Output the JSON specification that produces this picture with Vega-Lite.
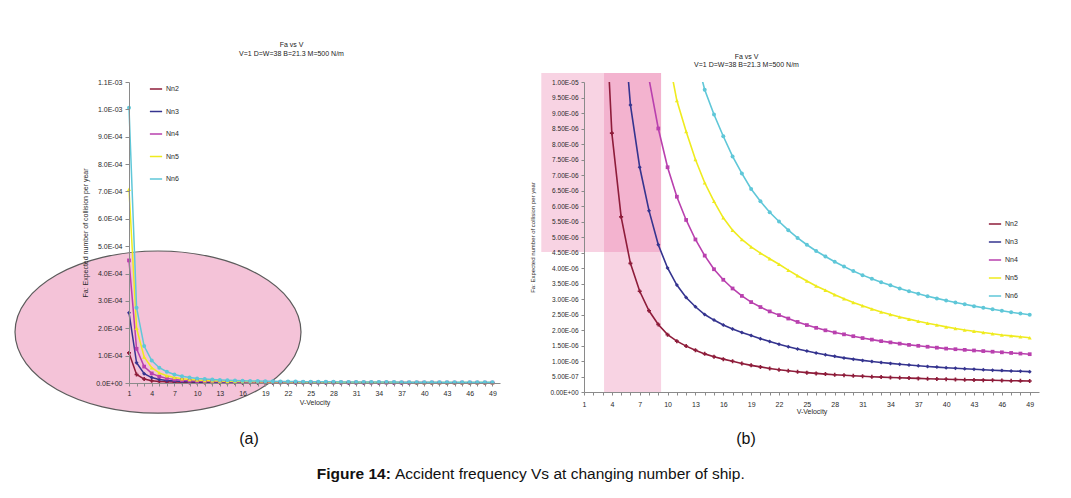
{
  "$schema": "https://vega.github.io/schema/vega-lite/v6.json",
  "padding": {"left": 12, "top": 41, "right": 4, "bottom": 4},
  "background": "white",
  "config": {
    "font": "Liberation Sans",
    "view": {"stroke": null},
    "axis": {"grid": false, "domainColor": "#8a8a8a", "tickColor": "#8a8a8a", "labelColor": "#2a2a2a", "titleColor": "#2a2a2a", "titleFontWeight": "normal", "labelFont": "Liberation Sans", "titleFont": "Liberation Sans"},
    "legend": {"labelFont": "Liberation Sans", "labelColor": "#2a2a2a"}
  },
  "datasets": {
    "curves": [
      {"V": 1, "Nn2": 1.1e-4, "Nn3": 2.57e-4, "Nn4": 4.48e-4, "Nn5": 7.08e-4, "Nn6": 1.006e-3},
      {"V": 2, "Nn2": 3.1e-5, "Nn3": 7.4e-5, "Nn4": 1.25e-4, "Nn5": 2.0e-4, "Nn6": 2.75e-4},
      {"V": 3, "Nn2": 1.44e-5, "Nn3": 3.4e-5, "Nn4": 6.0e-5, "Nn5": 9.5e-5, "Nn6": 1.35e-4},
      {"V": 4, "Nn2": 8.35e-6, "Nn3": 1.98e-5, "Nn4": 3.5e-5, "Nn5": 5.6e-5, "Nn6": 8.2e-5},
      {"V": 5, "Nn2": 5.65e-6, "Nn3": 1.29e-5, "Nn4": 2.35e-5, "Nn5": 3.7e-5, "Nn6": 5.6e-5},
      {"V": 6, "Nn2": 4.15e-6, "Nn3": 9.26e-6, "Nn4": 1.69e-5, "Nn5": 2.65e-5, "Nn6": 4.1e-5},
      {"V": 7, "Nn2": 3.25e-6, "Nn3": 7.25e-6, "Nn4": 1.28e-5, "Nn5": 2.0e-5, "Nn6": 3.1e-5},
      {"V": 8, "Nn2": 2.62e-6, "Nn3": 5.85e-6, "Nn4": 1.01e-5, "Nn5": 1.59e-5, "Nn6": 2.44e-5},
      {"V": 9, "Nn2": 2.18e-6, "Nn3": 4.75e-6, "Nn4": 8.5e-6, "Nn5": 1.3e-5, "Nn6": 1.99e-5},
      {"V": 10, "Nn2": 1.85e-6, "Nn3": 4.0e-6, "Nn4": 7.25e-6, "Nn5": 1.095e-5, "Nn6": 1.66e-5},
      {"V": 11, "Nn2": 1.64e-6, "Nn3": 3.45e-6, "Nn4": 6.3e-6, "Nn5": 9.4e-6, "Nn6": 1.42e-5},
      {"V": 12, "Nn2": 1.48e-6, "Nn3": 3.05e-6, "Nn4": 5.55e-6, "Nn5": 8.4e-6, "Nn6": 1.235e-5},
      {"V": 13, "Nn2": 1.35e-6, "Nn3": 2.75e-6, "Nn4": 4.92e-6, "Nn5": 7.5e-6, "Nn6": 1.09e-5},
      {"V": 14, "Nn2": 1.23e-6, "Nn3": 2.5e-6, "Nn4": 4.4e-6, "Nn5": 6.75e-6, "Nn6": 9.75e-6},
      {"V": 15, "Nn2": 1.14e-6, "Nn3": 2.32e-6, "Nn4": 3.96e-6, "Nn5": 6.15e-6, "Nn6": 8.95e-6},
      {"V": 16, "Nn2": 1.06e-6, "Nn3": 2.16e-6, "Nn4": 3.62e-6, "Nn5": 5.62e-6, "Nn6": 8.25e-6},
      {"V": 17, "Nn2": 9.9e-7, "Nn3": 2.03e-6, "Nn4": 3.34e-6, "Nn5": 5.22e-6, "Nn6": 7.6e-6},
      {"V": 18, "Nn2": 9.2e-7, "Nn3": 1.92e-6, "Nn4": 3.1e-6, "Nn5": 4.92e-6, "Nn6": 7.05e-6},
      {"V": 19, "Nn2": 8.6e-7, "Nn3": 1.82e-6, "Nn4": 2.9e-6, "Nn5": 4.68e-6, "Nn6": 6.55e-6},
      {"V": 20, "Nn2": 8.1e-7, "Nn3": 1.72e-6, "Nn4": 2.74e-6, "Nn5": 4.48e-6, "Nn6": 6.15e-6},
      {"V": 21, "Nn2": 7.6e-7, "Nn3": 1.63e-6, "Nn4": 2.6e-6, "Nn5": 4.3e-6, "Nn6": 5.8e-6},
      {"V": 22, "Nn2": 7.2e-7, "Nn3": 1.54e-6, "Nn4": 2.48e-6, "Nn5": 4.12e-6, "Nn6": 5.5e-6},
      {"V": 23, "Nn2": 6.85e-7, "Nn3": 1.46e-6, "Nn4": 2.37e-6, "Nn5": 3.93e-6, "Nn6": 5.22e-6},
      {"V": 24, "Nn2": 6.55e-7, "Nn3": 1.39e-6, "Nn4": 2.26e-6, "Nn5": 3.75e-6, "Nn6": 4.97e-6},
      {"V": 25, "Nn2": 6.25e-7, "Nn3": 1.32e-6, "Nn4": 2.16e-6, "Nn5": 3.58e-6, "Nn6": 4.75e-6},
      {"V": 26, "Nn2": 6.0e-7, "Nn3": 1.26e-6, "Nn4": 2.07e-6, "Nn5": 3.42e-6, "Nn6": 4.55e-6},
      {"V": 27, "Nn2": 5.78e-7, "Nn3": 1.2e-6, "Nn4": 1.99e-6, "Nn5": 3.28e-6, "Nn6": 4.37e-6},
      {"V": 28, "Nn2": 5.58e-7, "Nn3": 1.15e-6, "Nn4": 1.92e-6, "Nn5": 3.14e-6, "Nn6": 4.2e-6},
      {"V": 29, "Nn2": 5.4e-7, "Nn3": 1.1e-6, "Nn4": 1.86e-6, "Nn5": 3.01e-6, "Nn6": 4.05e-6},
      {"V": 30, "Nn2": 5.23e-7, "Nn3": 1.06e-6, "Nn4": 1.8e-6, "Nn5": 2.89e-6, "Nn6": 3.9e-6},
      {"V": 31, "Nn2": 5.08e-7, "Nn3": 1.02e-6, "Nn4": 1.74e-6, "Nn5": 2.78e-6, "Nn6": 3.77e-6},
      {"V": 32, "Nn2": 4.94e-7, "Nn3": 9.85e-7, "Nn4": 1.69e-6, "Nn5": 2.68e-6, "Nn6": 3.65e-6},
      {"V": 33, "Nn2": 4.81e-7, "Nn3": 9.52e-7, "Nn4": 1.64e-6, "Nn5": 2.58e-6, "Nn6": 3.54e-6},
      {"V": 34, "Nn2": 4.69e-7, "Nn3": 9.22e-7, "Nn4": 1.6e-6, "Nn5": 2.5e-6, "Nn6": 3.44e-6},
      {"V": 35, "Nn2": 4.58e-7, "Nn3": 8.95e-7, "Nn4": 1.56e-6, "Nn5": 2.42e-6, "Nn6": 3.34e-6},
      {"V": 36, "Nn2": 4.48e-7, "Nn3": 8.7e-7, "Nn4": 1.52e-6, "Nn5": 2.35e-6, "Nn6": 3.25e-6},
      {"V": 37, "Nn2": 4.38e-7, "Nn3": 8.46e-7, "Nn4": 1.49e-6, "Nn5": 2.28e-6, "Nn6": 3.17e-6},
      {"V": 38, "Nn2": 4.29e-7, "Nn3": 8.24e-7, "Nn4": 1.46e-6, "Nn5": 2.22e-6, "Nn6": 3.09e-6},
      {"V": 39, "Nn2": 4.2e-7, "Nn3": 8.03e-7, "Nn4": 1.43e-6, "Nn5": 2.16e-6, "Nn6": 3.02e-6},
      {"V": 40, "Nn2": 4.12e-7, "Nn3": 7.84e-7, "Nn4": 1.4e-6, "Nn5": 2.1e-6, "Nn6": 2.95e-6},
      {"V": 41, "Nn2": 4.04e-7, "Nn3": 7.66e-7, "Nn4": 1.38e-6, "Nn5": 2.05e-6, "Nn6": 2.89e-6},
      {"V": 42, "Nn2": 3.97e-7, "Nn3": 7.49e-7, "Nn4": 1.36e-6, "Nn5": 2.0e-6, "Nn6": 2.83e-6},
      {"V": 43, "Nn2": 3.9e-7, "Nn3": 7.33e-7, "Nn4": 1.34e-6, "Nn5": 1.96e-6, "Nn6": 2.77e-6},
      {"V": 44, "Nn2": 3.83e-7, "Nn3": 7.18e-7, "Nn4": 1.32e-6, "Nn5": 1.92e-6, "Nn6": 2.72e-6},
      {"V": 45, "Nn2": 3.77e-7, "Nn3": 7.04e-7, "Nn4": 1.3e-6, "Nn5": 1.88e-6, "Nn6": 2.67e-6},
      {"V": 46, "Nn2": 3.71e-7, "Nn3": 6.91e-7, "Nn4": 1.28e-6, "Nn5": 1.84e-6, "Nn6": 2.62e-6},
      {"V": 47, "Nn2": 3.65e-7, "Nn3": 6.79e-7, "Nn4": 1.26e-6, "Nn5": 1.81e-6, "Nn6": 2.57e-6},
      {"V": 48, "Nn2": 3.6e-7, "Nn3": 6.67e-7, "Nn4": 1.24e-6, "Nn5": 1.78e-6, "Nn6": 2.53e-6},
      {"V": 49, "Nn2": 3.55e-7, "Nn3": 6.56e-7, "Nn4": 1.22e-6, "Nn5": 1.75e-6, "Nn6": 2.49e-6}
    ]
  },
  "spacing": 10,
  "vconcat": [
    {
      "bounds": "flush",
      "spacing": 84,
      "resolve": {"scale": {"color": "independent"}, "legend": {"color": "independent"}},
      "hconcat": [
        {
          "width": 371,
          "height": 301,
          "title": {"text": ["Fa vs V", "V=1 D=W=38 B=21.3 M=500 N/m"], "fontSize": 7, "fontWeight": "normal", "lineHeight": 9, "offset": 21, "dx": -23, "color": "#222", "font": "Liberation Sans"},
          "layer": [
            {
              "data": {"values": [{}]},
              "mark": {"type": "point", "shape": "M-1,0A1,0.567,0,1,1,1,0A1,0.567,0,1,1,-1,0Z", "size": 81796, "filled": true, "fill": "#f4c3d8", "stroke": "#5c5c5c", "strokeWidth": 1.2, "opacity": 1, "clip": false},
              "encoding": {
                "x": {"datum": 4.83, "type": "quantitative", "scale": {"domain": [1, 50], "nice": false, "zero": false},
                  "axis": {"zindex": 1, "values": [1,2,3,4,5,6,7,8,9,10,11,12,13,14,15,16,17,18,19,20,21,22,23,24,25,26,27,28,29,30,31,32,33,34,35,36,37,38,39,40,41,42,43,44,45,46,47,48,49],
                    "labelExpr": "(datum.value - 1) % 3 == 0 ? datum.label : ''", "labelOverlap": false, "labelFlush": false,
                    "title": "V-Velocity", "titleFontSize": 7, "labelFontSize": 7, "tickSize": 3, "labelPadding": 3, "titlePadding": 2}},
                "y": {"datum": 0.000186, "type": "quantitative", "scale": {"domain": [0, 0.0011], "nice": false},
                  "axis": {"zindex": 1, "values": [0, 0.0001, 0.0002, 0.0003, 0.0004, 0.0005, 0.0006, 0.0007, 0.0008, 0.0009, 0.001, 0.0011],
                    "labelExpr": "replace(replace(format(datum.value, '.1e'), 'e-', 'E-0'), 'e+', 'E+0')", "labelOverlap": false, "labelFlush": false,
                    "title": "Fa: Expected number of collision per year", "titleFontSize": 7, "labelFontSize": 7, "tickSize": 4, "labelPadding": 3, "titlePadding": 7}}
              }
            },
            {
              "data": {"name": "curves"},
              "encoding": {
                "x": {"field": "V", "type": "quantitative", "scale": {"domain": [1, 50], "nice": false, "zero": false},
                  "axis": {"zindex": 1, "values": [1,2,3,4,5,6,7,8,9,10,11,12,13,14,15,16,17,18,19,20,21,22,23,24,25,26,27,28,29,30,31,32,33,34,35,36,37,38,39,40,41,42,43,44,45,46,47,48,49],
                    "labelExpr": "(datum.value - 1) % 3 == 0 ? datum.label : ''", "labelOverlap": false, "labelFlush": false,
                    "title": "V-Velocity", "titleFontSize": 7, "labelFontSize": 7, "tickSize": 3, "labelPadding": 3, "titlePadding": 2}},
                "y": {"field": "Fa", "type": "quantitative", "scale": {"domain": [0, 0.0011], "nice": false},
                  "axis": {"zindex": 1, "values": [0, 0.0001, 0.0002, 0.0003, 0.0004, 0.0005, 0.0006, 0.0007, 0.0008, 0.0009, 0.001, 0.0011],
                    "labelExpr": "replace(replace(format(datum.value, '.1e'), 'e-', 'E-0'), 'e+', 'E+0')", "labelOverlap": false, "labelFlush": false,
                    "title": "Fa: Expected number of collision per year", "titleFontSize": 7, "labelFontSize": 7, "tickSize": 4, "labelPadding": 3, "titlePadding": 7}}
              },
              "layer": [
                {
                  "transform": [{"fold": ["Nn2", "Nn3", "Nn4", "Nn5", "Nn6"], "as": ["series", "Fa"]}],
                  "mark": {"type": "line", "strokeWidth": 1.5},
                  "encoding": {
                    "color": {"field": "series", "type": "nominal",
                      "scale": {"domain": ["Nn2", "Nn3", "Nn4", "Nn5", "Nn6"], "range": ["#8e1c3a", "#35348f", "#b940ae", "#efeb1e", "#5fc7d8"]},
                      "legend": {"orient": "none", "legendX": 20, "legendY": 0, "title": null, "symbolType": "stroke", "symbolSize": 150, "symbolStrokeWidth": 1.5, "labelFontSize": 7, "rowPadding": 12.5, "labelOffset": 3}}
                  }
                },
                {"transform": [{"fold": ["Nn2"], "as": ["series", "Fa"]}], "mark": {"type": "point", "shape": "cross", "filled": true, "size": 16, "color": "#8e1c3a", "opacity": 1}},
                {"transform": [{"fold": ["Nn3"], "as": ["series", "Fa"]}], "mark": {"type": "point", "shape": "diamond", "filled": true, "size": 16, "color": "#35348f", "opacity": 1}},
                {"transform": [{"fold": ["Nn4"], "as": ["series", "Fa"]}], "mark": {"type": "point", "shape": "square", "filled": true, "size": 14, "color": "#b940ae", "opacity": 1}},
                {"transform": [{"fold": ["Nn5"], "as": ["series", "Fa"]}], "mark": {"type": "point", "shape": "triangle-up", "filled": true, "size": 16, "color": "#efeb1e", "opacity": 1}},
                {"transform": [{"fold": ["Nn6"], "as": ["series", "Fa"]}], "mark": {"type": "point", "shape": "circle", "filled": true, "size": 16, "color": "#5fc7d8", "opacity": 1}}
              ]
            }
          ]
        },
        {
          "width": 455,
          "height": 310,
          "title": {"text": ["Fa vs V", "V=1 D=W=38 B=21.3 M=500 N/m"], "fontSize": 7, "fontWeight": "normal", "lineHeight": 8, "offset": 5, "dx": -65, "color": "#222", "font": "Liberation Sans"},
          "layer": [
            {
              "data": {"values": [{}]},
              "mark": {"type": "rect", "color": "#e5609a", "opacity": 0.28, "clip": false},
              "encoding": {
                "x": {"datum": 3.16, "type": "quantitative", "scale": {"domain": [1, 50], "nice": false, "zero": false},
                  "axis": {"zindex": 1, "values": [1,2,3,4,5,6,7,8,9,10,11,12,13,14,15,16,17,18,19,20,21,22,23,24,25,26,27,28,29,30,31,32,33,34,35,36,37,38,39,40,41,42,43,44,45,46,47,48,49],
                    "labelExpr": "(datum.value - 1) % 3 == 0 ? datum.label : ''", "labelOverlap": false, "labelFlush": false,
                    "title": "V-Velocity", "titleFontSize": 7, "labelFontSize": 7, "tickSize": 3, "labelPadding": 5, "titlePadding": 0}},
                "x2": {"datum": 9.3},
                "y": {"datum": 0, "type": "quantitative", "scale": {"domain": [0, 1e-5], "nice": false},
                  "axis": {"zindex": 1, "values": [0, 5e-7, 1e-6, 1.5e-6, 2e-6, 2.5e-6, 3e-6, 3.5e-6, 4e-6, 4.5e-6, 5e-6, 5.5e-6, 6e-6, 6.5e-6, 7e-6, 7.5e-6, 8e-6, 8.5e-6, 9e-6, 9.5e-6, 1e-5],
                    "labelExpr": "replace(replace(format(datum.value, '.2e'), 'e-', 'E-0'), 'e+', 'E+0')", "labelOverlap": false, "labelFlush": false,
                    "title": "Fa: Expected number of collision per year", "titleFontSize": 6, "labelFontSize": 6.5, "tickSize": 3, "labelPadding": 3, "titlePadding": 14}},
                "y2": {"datum": 1.029e-5}
              }
            },
            {
              "data": {"values": [{}]},
              "mark": {"type": "rect", "color": "#e5609a", "opacity": 0.28, "clip": false},
              "encoding": {
                "x": {"datum": -3.6, "type": "quantitative", "scale": {"domain": [1, 50], "nice": false, "zero": false},
                  "axis": {"zindex": 1, "values": [1,2,3,4,5,6,7,8,9,10,11,12,13,14,15,16,17,18,19,20,21,22,23,24,25,26,27,28,29,30,31,32,33,34,35,36,37,38,39,40,41,42,43,44,45,46,47,48,49],
                    "labelExpr": "(datum.value - 1) % 3 == 0 ? datum.label : ''", "labelOverlap": false, "labelFlush": false,
                    "title": "V-Velocity", "titleFontSize": 7, "labelFontSize": 7, "tickSize": 3, "labelPadding": 5, "titlePadding": 0}},
                "x2": {"datum": 9.3},
                "y": {"datum": 4.52e-6, "type": "quantitative", "scale": {"domain": [0, 1e-5], "nice": false},
                  "axis": {"zindex": 1, "values": [0, 5e-7, 1e-6, 1.5e-6, 2e-6, 2.5e-6, 3e-6, 3.5e-6, 4e-6, 4.5e-6, 5e-6, 5.5e-6, 6e-6, 6.5e-6, 7e-6, 7.5e-6, 8e-6, 8.5e-6, 9e-6, 9.5e-6, 1e-5],
                    "labelExpr": "replace(replace(format(datum.value, '.2e'), 'e-', 'E-0'), 'e+', 'E+0')", "labelOverlap": false, "labelFlush": false,
                    "title": "Fa: Expected number of collision per year", "titleFontSize": 6, "labelFontSize": 6.5, "tickSize": 3, "labelPadding": 3, "titlePadding": 14}},
                "y2": {"datum": 1.029e-5}
              }
            },
            {
              "data": {"name": "curves"},
              "encoding": {
                "x": {"field": "V", "type": "quantitative", "scale": {"domain": [1, 50], "nice": false, "zero": false},
                  "axis": {"zindex": 1, "values": [1,2,3,4,5,6,7,8,9,10,11,12,13,14,15,16,17,18,19,20,21,22,23,24,25,26,27,28,29,30,31,32,33,34,35,36,37,38,39,40,41,42,43,44,45,46,47,48,49],
                    "labelExpr": "(datum.value - 1) % 3 == 0 ? datum.label : ''", "labelOverlap": false, "labelFlush": false,
                    "title": "V-Velocity", "titleFontSize": 7, "labelFontSize": 7, "tickSize": 3, "labelPadding": 5, "titlePadding": 0}},
                "y": {"field": "Fa", "type": "quantitative", "scale": {"domain": [0, 1e-5], "nice": false},
                  "axis": {"zindex": 1, "values": [0, 5e-7, 1e-6, 1.5e-6, 2e-6, 2.5e-6, 3e-6, 3.5e-6, 4e-6, 4.5e-6, 5e-6, 5.5e-6, 6e-6, 6.5e-6, 7e-6, 7.5e-6, 8e-6, 8.5e-6, 9e-6, 9.5e-6, 1e-5],
                    "labelExpr": "replace(replace(format(datum.value, '.2e'), 'e-', 'E-0'), 'e+', 'E+0')", "labelOverlap": false, "labelFlush": false,
                    "title": "Fa: Expected number of collision per year", "titleFontSize": 6, "labelFontSize": 6.5, "tickSize": 3, "labelPadding": 3, "titlePadding": 14}}
              },
              "layer": [
                {
                  "transform": [{"fold": ["Nn2", "Nn3", "Nn4", "Nn5", "Nn6"], "as": ["series", "Fa"]}],
                  "mark": {"type": "line", "strokeWidth": 1.6, "clip": true},
                  "encoding": {
                    "color": {"field": "series", "type": "nominal",
                      "scale": {"domain": ["Nn2", "Nn3", "Nn4", "Nn5", "Nn6"], "range": ["#8e1c3a", "#35348f", "#b940ae", "#efeb1e", "#5fc7d8"]},
                      "legend": {"orient": "none", "legendX": 404, "legendY": 135, "title": null, "symbolType": "stroke", "symbolSize": 150, "symbolStrokeWidth": 1.5, "labelFontSize": 7, "rowPadding": 8, "labelOffset": 3}}
                  }
                },
                {"transform": [{"fold": ["Nn2"], "as": ["series", "Fa"]}], "mark": {"type": "point", "shape": "cross", "filled": true, "size": 16, "color": "#8e1c3a", "opacity": 1, "clip": true}},
                {"transform": [{"fold": ["Nn3"], "as": ["series", "Fa"]}], "mark": {"type": "point", "shape": "diamond", "filled": true, "size": 16, "color": "#35348f", "opacity": 1, "clip": true}},
                {"transform": [{"fold": ["Nn4"], "as": ["series", "Fa"]}], "mark": {"type": "point", "shape": "square", "filled": true, "size": 14, "color": "#b940ae", "opacity": 1, "clip": true}},
                {"transform": [{"fold": ["Nn5"], "as": ["series", "Fa"]}], "mark": {"type": "point", "shape": "triangle-up", "filled": true, "size": 16, "color": "#efeb1e", "opacity": 1, "clip": true}},
                {"transform": [{"fold": ["Nn6"], "as": ["series", "Fa"]}], "mark": {"type": "point", "shape": "circle", "filled": true, "size": 16, "color": "#5fc7d8", "opacity": 1, "clip": true}}
              ]
            }
          ]
        }
      ]
    },
    {
      "width": 900,
      "height": 60,
      "data": {"values": [{}]},
      "layer": [
        {
          "mark": {"type": "text", "fontSize": 16, "color": "#111", "font": "Liberation Sans"},
          "encoding": {
            "x": {"datum": 0.1333, "type": "quantitative", "scale": {"domain": [0, 1]}, "axis": null},
            "y": {"datum": 0.78, "type": "quantitative", "scale": {"domain": [0, 1]}, "axis": null},
            "text": {"value": "(a)"}
          }
        },
        {
          "mark": {"type": "text", "fontSize": 16, "color": "#111", "font": "Liberation Sans"},
          "encoding": {
            "x": {"datum": 0.6856, "type": "quantitative", "axis": null},
            "y": {"datum": 0.78, "type": "quantitative", "axis": null},
            "text": {"value": "(b)"}
          }
        },
        {
          "mark": {"type": "text", "fontSize": 15.5, "fontWeight": "bold", "align": "right", "color": "#111", "font": "Liberation Sans"},
          "encoding": {
            "x": {"datum": 0.291, "type": "quantitative", "axis": null},
            "y": {"datum": 0.2, "type": "quantitative", "axis": null},
            "text": {"value": "Figure 14:"}
          }
        },
        {
          "mark": {"type": "text", "fontSize": 15.5, "align": "left", "dx": 4, "color": "#111", "font": "Liberation Sans"},
          "encoding": {
            "x": {"datum": 0.291, "type": "quantitative", "axis": null},
            "y": {"datum": 0.2, "type": "quantitative", "axis": null},
            "text": {"value": "Accident frequency Vs at changing number of ship."}
          }
        }
      ]
    }
  ]
}
